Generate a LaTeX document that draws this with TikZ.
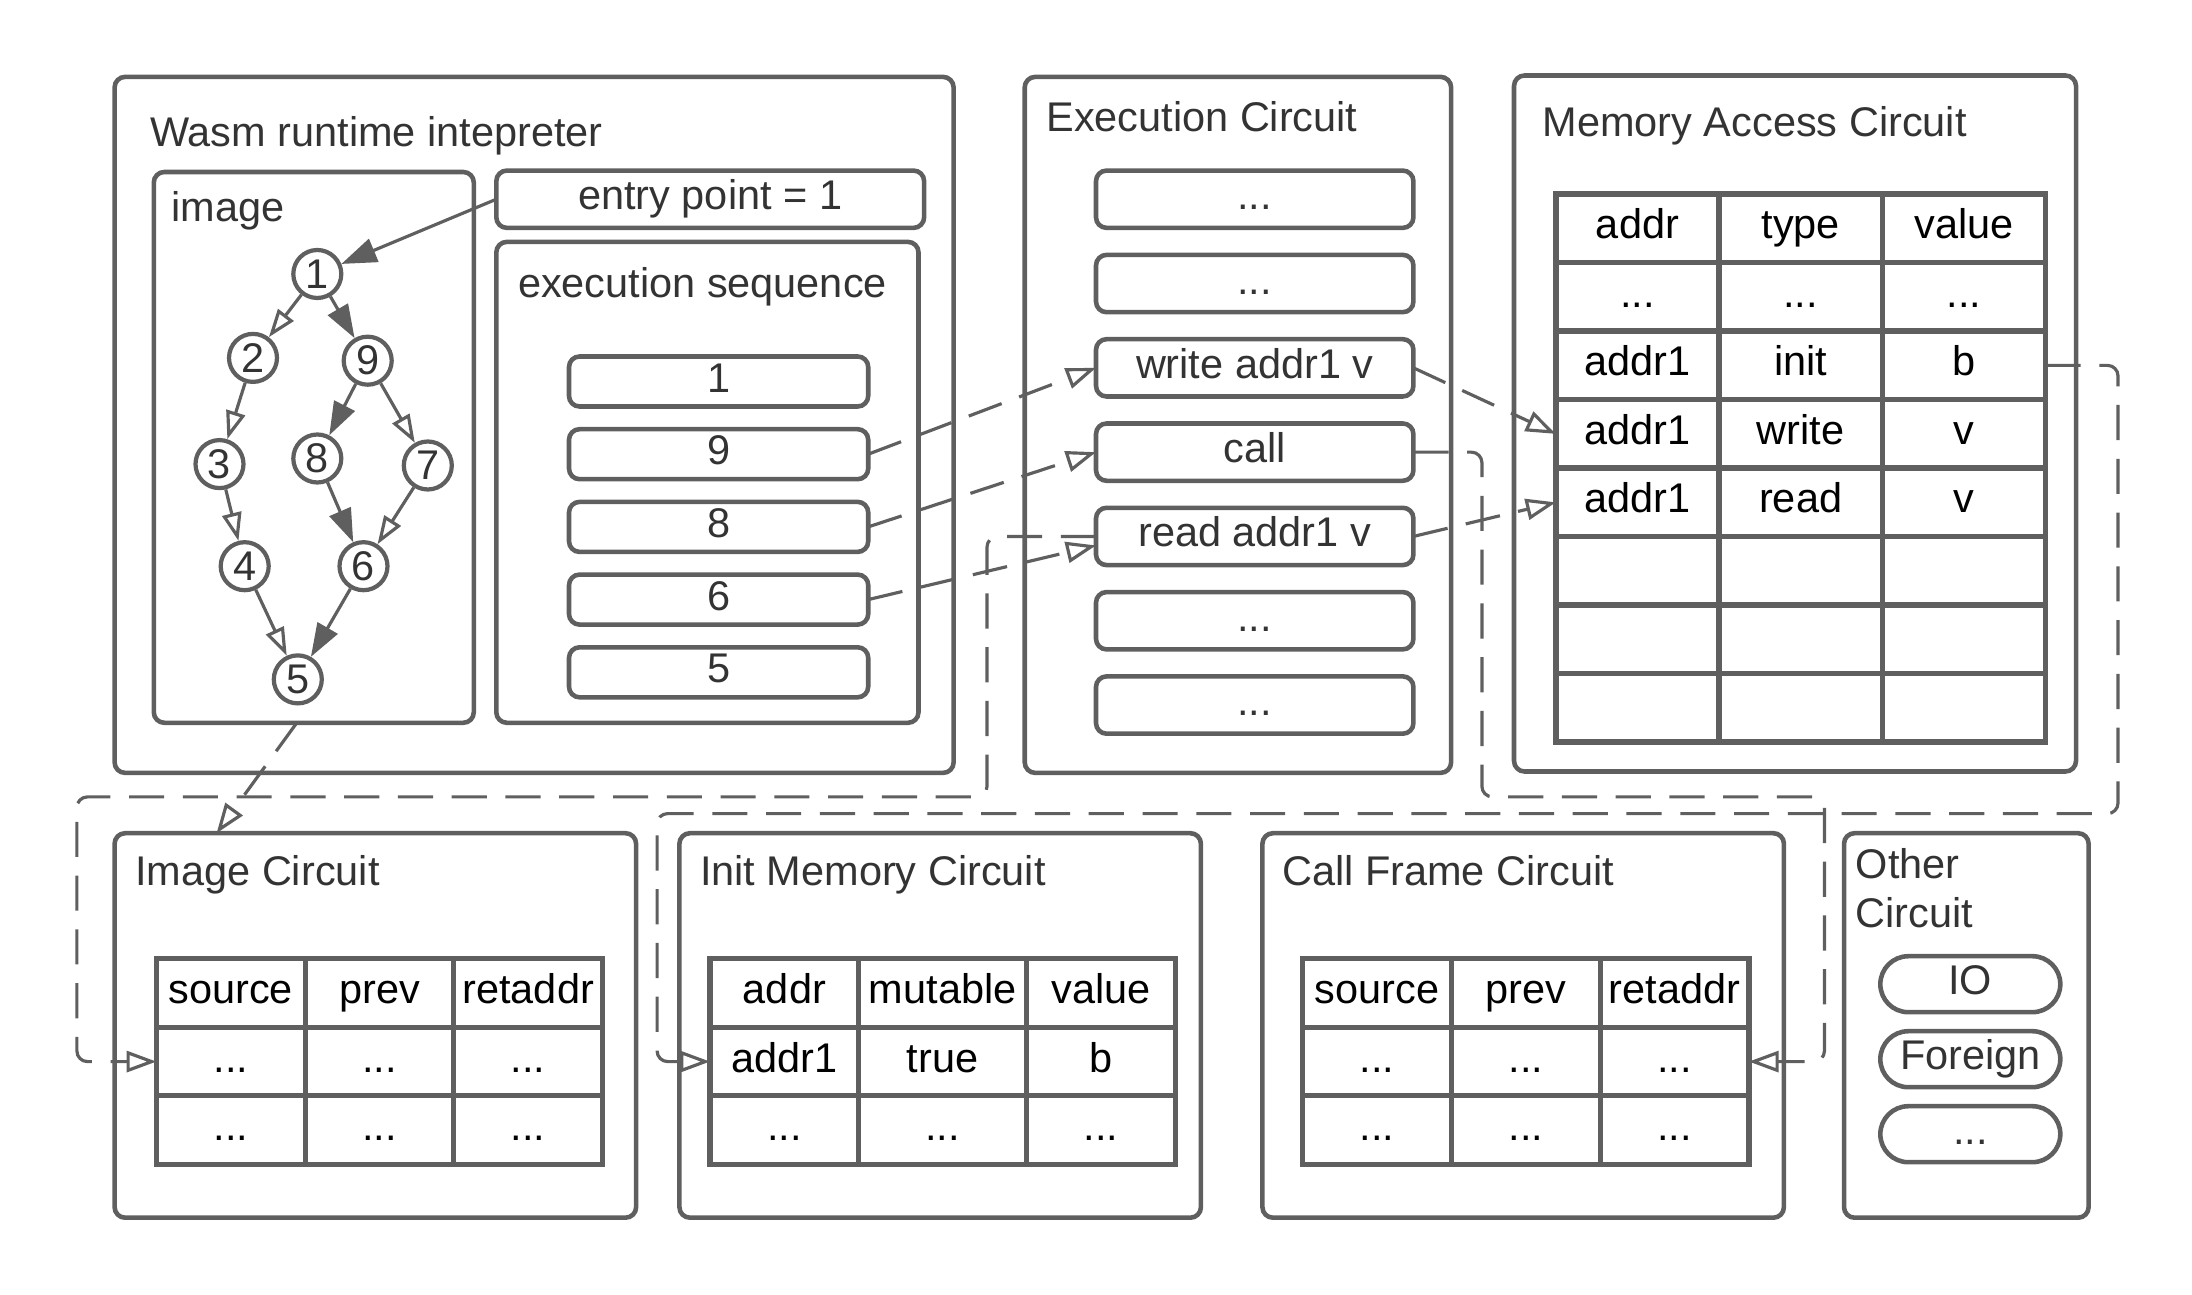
\documentclass[tikz,border=0pt]{standalone}
\usepackage{fontspec}
\setmainfont{Liberation Sans}
\usetikzlibrary{arrows.meta,positioning,matrix}
\definecolor{linegray}{HTML}{5F5F5F}
\definecolor{textgray}{HTML}{333333}

\begin{document}
\begin{tikzpicture}
[font=\fontsize{11.8pt}{13.9pt}\selectfont, text=textgray,
% STYLES
% The frame style is used for the circuits and the panels inside them
frame/.style={rectangle, draw=linegray, line width=1.3pt, rounded corners=3pt, anchor=north west, inner sep=0pt, outer sep=0pt},
% The title style is used to write the name of each frame
title/.style={inner sep=0pt, align=left},
% The slot style is used to draw the steps and instructions
slot/.style={rectangle, draw=linegray, line width=1.3pt, rounded corners=3pt, inner sep=0pt, outer sep=0pt, text height=8.4pt, text depth=2.4pt},
seqstep/.style={slot, minimum width=2.992cm, minimum height=0.5cm},
cmd/.style={slot, minimum width=3.174cm, minimum height=0.573cm},
pill/.style={slot, rounded corners=0.28cm, minimum width=1.8cm, minimum height=0.56cm},
vertex/.style={circle, draw=linegray, line width=1.2pt, minimum size=0.48cm, inner sep=0pt},
% The datatable style is used for the tables of the circuits
datatable/.style={matrix of nodes, nodes in empty cells, anchor=north west, inner sep=0pt, outer sep=0pt, column sep=-1.5pt, row sep=-1.5pt,
  nodes={rectangle, draw=linegray, line width=1.5pt, inner sep=0pt, minimum height=0.685cm, minimum width=1.487cm, text height=8.4pt, text depth=2.4pt, text=black}},
% The connectors
taken/.style={draw=linegray, line width=0.9pt, -{Triangle[length=9.5pt, width=6.5pt]}},
untaken/.style={draw=linegray, line width=0.9pt, -{Triangle[open, length=8pt, width=5.5pt]}},
flow/.style={draw=linegray, line width=0.9pt, dash pattern=on 10pt off 5.3pt, rounded corners=3pt, -{Triangle[open, length=8.5pt, width=6pt]}}]

\useasboundingbox (0,0) rectangle (21.92,-12.945);

% Draw circuits
\node [frame, minimum width=8.39cm, minimum height=6.96cm] (wasm) at (1.146,-0.769) {};
\node [frame, minimum width=4.264cm, minimum height=6.96cm] (exec) at (10.247,-0.769) {};
\node [frame, minimum width=5.62cm, minimum height=6.96cm] (mac) at (15.14,-0.755) {};
\node [frame, minimum width=5.215cm, minimum height=3.845cm] (imgc) at (1.146,-8.332) {};
\node [frame, minimum width=5.215cm, minimum height=3.845cm] (initc) at (6.794,-8.332) {};
\node [frame, minimum width=5.215cm, minimum height=3.845cm] (cfc) at (12.624,-8.332) {};
\node [frame, minimum width=2.446cm, minimum height=3.845cm] (otherc) at (18.44,-8.332) {};

\node [title, below right=0.39cm and 0.35cm of wasm.north west] (wasm-title) {Wasm runtime intepreter};
\node [title, below right=0.24cm and 0.21cm of exec.north west] (exec-title) {Execution Circuit};
\node [title, below right=0.3cm and 0.28cm of mac.north west] (mac-title) {Memory Access Circuit};
\node [title, below right=0.22cm and 0.2cm of imgc.north west] (imgc-title) {Image Circuit};
\node [title, below right=0.22cm and 0.2cm of initc.north west] (initc-title) {Init Memory Circuit};
\node [title, below right=0.22cm and 0.19cm of cfc.north west] (cfc-title) {Call Frame Circuit};
\node [title, below right=0.15cm and 0.11cm of otherc.north west] (otherc-title) {Other\\Circuit};

%%%%%%%%%%%%%%%
% Wasm runtime intepreter
\node [frame, minimum width=3.2cm, minimum height=5.508cm] (image) at (1.538,-1.72) {};
\node [title, below right=0.19cm and 0.17cm of image.north west] (image-title) {image};
\node [slot, anchor=north west, minimum width=4.278cm, minimum height=0.573cm] (entry) at (4.963,-1.706) {entry point = 1};
\node [frame, minimum width=4.222cm, minimum height=4.809cm] (seqbox) at (4.963,-2.419) {};
\node [title, below right=0.25cm and 0.21cm of seqbox.north west] (seq-title) {execution sequence};

\node [seqstep, anchor=north west] (s1) at (5.69,-3.565) {1};
\node [seqstep, below=0.227cm of s1] (s9) {9};
\node [seqstep, below=0.227cm of s9] (s8) {8};
\node [seqstep, below=0.227cm of s8] (s6) {6};
\node [seqstep, below=0.227cm of s6] (s5) {5};

% image
\node [vertex] (n1) at (3.173,-2.74) {1};
\node [vertex] (n2) at (2.53,-3.579) {2};
\node [vertex] (n9) at (3.677,-3.607) {9};
\node [vertex] (n3) at (2.195,-4.641) {3};
\node [vertex] (n8) at (3.173,-4.585) {8};
\node [vertex] (n7) at (4.278,-4.655) {7};
\node [vertex] (n4) at (2.447,-5.662) {4};
\node [vertex] (n6) at (3.635,-5.662) {6};
\node [vertex] (n5) at (2.978,-6.794) {5};

% Execution Circuit
\node [cmd, anchor=north west] (c1) at (10.96,-1.706) {...};
\node [cmd, below=0.27cm of c1] (c2) {...};
\node [cmd, below=0.27cm of c2] (write) {write addr1 v};
\node [cmd, below=0.27cm of write] (call) {call};
\node [cmd, below=0.27cm of call] (read) {read addr1 v};
\node [cmd, below=0.27cm of read] (c6) {...};
\node [cmd, below=0.27cm of c6] (c7) {...};

% Memory Access Circuit
\matrix [datatable, nodes={minimum width=1.632cm}] (mem) at (15.532,-1.915)
{
addr & type & value \\
... & ... & ... \\
addr1 & init & b \\
addr1 & write & v \\
addr1 & read & v \\
 & & \\
 & & \\
 & & \\
};

% Image Circuit
\matrix [datatable] (imgt) at (1.538,-9.562)
{
source & prev & retaddr \\
... & ... & ... \\
... & ... & ... \\
};

% Init Memory Circuit
\matrix [datatable, column 2/.style={nodes={minimum width=1.678cm}}] (initt) at (7.074,-9.562)
{
addr & mutable & value \\
addr1 & true & b \\
... & ... & ... \\
};

% Call Frame Circuit
\matrix [datatable] (cft) at (13.001,-9.562)
{
source & prev & retaddr \\
... & ... & ... \\
... & ... & ... \\
};

% Other Circuit
\node [pill, anchor=north west] (io) at (18.803,-9.562) {IO};
\node [pill, below=0.19cm of io] (foreign) {Foreign};
\node [pill, below=0.19cm of foreign] (more) {...};

%%%%%%%%%%%%%%%

% Draw the links
\draw [taken, -{Triangle[length=10pt, width=7pt]}] (entry.west) -- (n1);
\draw [untaken] (n1) -- (n2);
\draw [taken] (n1) -- (n9);
\draw [untaken] (n2) -- (n3);
\draw [taken] (n9) -- (n8);
\draw [untaken] (n9) -- (n7);
\draw [untaken] (n3) -- (n4);
\draw [taken] (n8) -- (n6);
\draw [untaken] (n7) -- (n6);
\draw [untaken] (n4) -- (n5);
\draw [taken] (n6) -- (n5);

\draw [flow] (s9.east) -- (write.west);
\draw [flow] (s8.east) -- (call.west);
\draw [flow] (s6.east) -- ([yshift=-0.09cm]read.west);
\draw [flow] (write.east) -- (mem-4-1.west);
\draw [flow] (read.east) -- (mem-5-1.west);
\draw [flow] ([xshift=-0.17cm]image.south) -- ([xshift=1.02cm]imgc.north west);
\draw [flow] (read.west) -| (9.87,-7.969) -- (0.769,-7.969) |- (imgt-2-1.west);
\draw [flow] (call.east) -| (14.819,-7.969) -- (18.244,-7.969) |- (cft-2-3.east);
\draw [flow] (mem-3-3.east) -| (21.18,-8.136) -- (6.571,-8.136) |- (initt-2-1.west);

\end{tikzpicture}
\end{document}
